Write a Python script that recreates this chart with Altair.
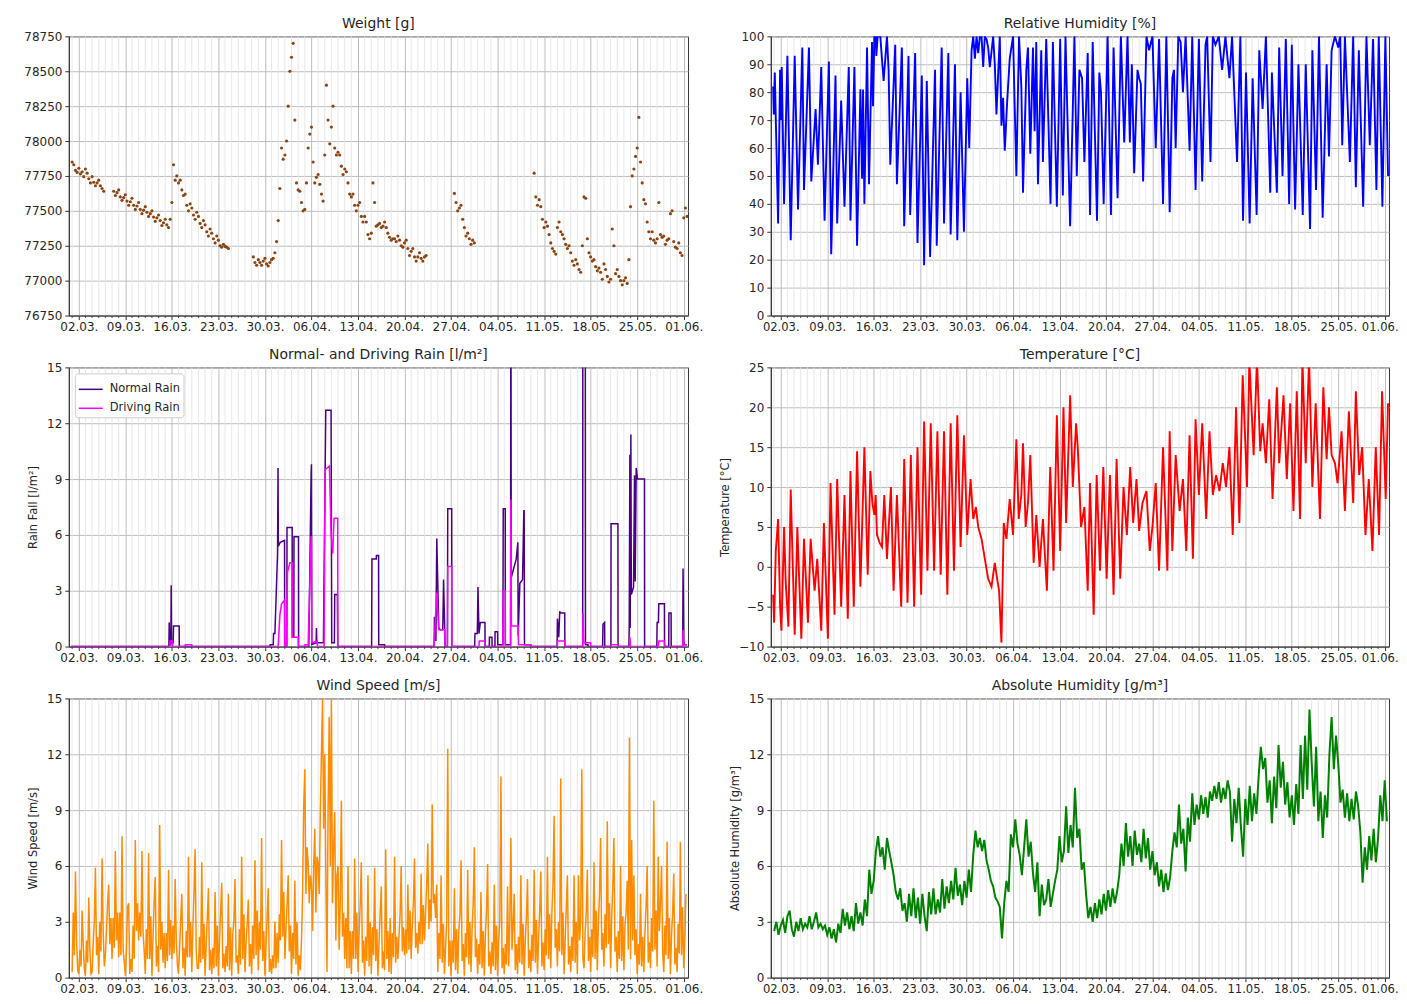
import altair as alt
import pandas as pd

BASE = pd.Timestamp("2023-03-02")

tick_labels = ["02.03.", "09.03.", "16.03.", "23.03.", "30.03.", "06.04.", "13.04.",
               "20.04.", "27.04.", "04.05.", "11.05.", "18.05.", "25.05.", "01.06."]

# ---------------- Weight [g] : segments, 6-hour steps (day offset from 02.03.)
weight_seg1_start = -1.0
weight_seg1 = [77850, 77830, 77790, 77775, 77805, 77765, 77780, 77745, 77800, 77770,
               77730, 77700, 77745, 77705, 77680, 77700, 77720, 77680, 77660, 77640]
weight_seg2_start = 5.25
weight_seg2 = [77640, 77610, 77630, 77650, 77600, 77575, 77595, 77615, 77570, 77540,
               77565, 77590, 77540, 77510, 77535, 77560, 77510, 77480, 77505, 77530,
               77490, 77460, 77480, 77500, 77455, 77425, 77450, 77470, 77430, 77395,
               77415, 77440, 77400, 77380, 77440, 77560, 77830, 77720, 77750, 77700,
               77720, 77650, 77610, 77620, 77540, 77500, 77550, 77520, 77470, 77440,
               77490, 77460, 77410, 77380, 77430, 77400, 77350, 77320, 77370, 77340,
               77300, 77270, 77320, 77290, 77250, 77240, 77260, 77245, 77240, 77230]
weight_seg3_start = 26.25
weight_seg3 = [77170, 77130, 77110, 77150, 77130, 77110, 77140, 77160, 77120, 77105,
               77130, 77150, 77160, 77200, 77280, 77430, 77660, 77950, 77870, 77900,
               78000, 78250, 78500, 78600, 78700, 78150, 77700, 77650, 77640, 77560,
               77500, 77510, 77700, 77950, 78050, 78100, 77850, 77700, 77740, 77760,
               77690, 77620, 77570, 77900, 78400, 78150, 77980, 78100, 78250, 77950,
               77900, 77920, 77900, 77820, 77760, 77800, 77780, 77700, 77620, 77600,
               77620, 77540, 77500, 77540, 77560, 77460, 77420, 77460, 77420, 77330,
               77300, 77340, 77700, 77560, 77390, 77400, 77410, 77380, 77390, 77420,
               77380, 77340, 77310, 77290, 77300, 77300, 77280, 77320, 77290, 77250,
               77240, 77270, 77290, 77230, 77180, 77210, 77230, 77170, 77140, 77170,
               77200, 77160, 77140, 77170, 77180]
weight_seg4_start = 56.5
weight_seg4 = [77625, 77560, 77500, 77520, 77540, 77440, 77380, 77320, 77340, 77300,
               77260, 77290, 77270]
weight_seg5_start = 68.5
weight_seg5 = [77770, 77600, 77540, 77580, 77530, 77440, 77380, 77420, 77390, 77330,
               77270, 77230, 77210, 77190, 77380, 77420, 77350, 77330, 77300, 77260,
               77230, 77250, 77200, 77140, 77110, 77150, 77120, 77080, 77060, 77250,
               77600, 77590, 77300, 77200, 77170, 77140, 77150, 77100, 77070, 77090,
               77060, 77010, 77120, 77080, 77030, 76990, 77010, 77370, 77250, 77050,
               77080, 77030, 77000, 76970, 77000, 77020, 76980, 77150, 77530, 77750,
               77800, 77890, 77950, 78170, 77850, 77700, 77580, 77550, 77420, 77350,
               77300, 77350, 77290, 77270, 77300, 77560, 77330, 77310, 77320, 77260,
               77290, 77300, 77480, 77500, 77280, 77240, 77230, 77270, 77200, 77180,
               77450, 77520, 77460]

# ---------------- Relative Humidity [%] : (day offset, value)
rh_t = [-1.15, -1.05, -0.9, -0.4, -0.1, 0.0, 0.15, 0.5, 1.0, 1.5, 2.1, 2.6, 3.25, 3.5, 4.25,
        4.6, 5.25, 5.6, 6.1, 6.6, 7.25, 7.6, 8.25, 8.5, 9.1, 9.6, 10.25, 10.5, 11.1, 11.5,
        12.0, 12.25, 12.4, 12.6, 13.0, 13.3, 13.75, 13.9, 14.1, 14.3, 14.4, 14.6, 15.0, 15.5,
        16.0, 16.25, 16.5, 17.25, 17.5, 18.25, 18.6, 19.25, 19.5, 20.25, 20.6, 21.25, 21.6,
        22.0, 22.5, 23.25, 23.5, 24.25, 24.6, 25.25, 25.6, 26.25, 26.6, 27.1, 27.6, 28.1,
        28.4, 28.75, 29.0, 29.25, 29.5, 29.75, 30.0, 30.25, 30.5, 30.75, 31.0, 31.25, 31.5,
        32.0, 32.25, 32.5, 33.0, 33.25, 33.5, 33.75, 34.1, 34.5, 35.0, 35.5, 35.9, 36.25,
        36.5, 37.0, 37.25, 37.6, 38.0, 38.25, 38.5, 38.75, 39.25, 39.5, 40.0, 40.65, 41.0,
        41.6, 42.1, 42.5, 42.9, 43.6, 44.25, 44.6, 45.0, 45.4, 45.75, 46.25, 46.6, 47.0,
        47.65, 48.0, 48.25, 48.65, 49.25, 49.75, 50.15, 50.75, 51.25, 51.75, 52.25, 52.6,
        52.9, 53.25, 53.75, 54.0, 54.25, 54.6, 55.1, 55.5, 56.0, 56.5, 57.0, 57.6, 58.1,
        58.6, 59.0, 59.25, 59.5, 59.9, 60.25, 60.6, 61.0, 61.6, 62.0, 62.5, 63.0, 63.5,
        64.0, 64.25, 64.75, 65.1, 65.5, 66.0, 66.5, 67.0, 67.6, 68.0, 68.75, 69.25, 69.65,
        70.1, 70.65, 71.1, 71.7, 72.1, 72.6, 73.1, 73.75, 74.0, 74.75, 75.1, 75.6, 76.1,
        76.6, 77.0, 77.5, 78.0, 78.65, 79.1, 79.75, 80.1, 80.65, 81.1, 81.65, 82.25, 82.6,
        83.0, 83.5, 84.0, 84.3, 84.6, 85.0, 85.75, 86.25, 86.65, 87.1, 87.75, 88.25, 88.75,
        89.25, 89.75, 90.1, 90.65, 91.1, 91.5]
rh_v = [82, 72, 87, 33, 88, 70, 89, 40, 93, 27, 93, 38, 96, 45, 96,
        48, 74, 54, 89, 34, 91, 22, 86, 33, 77, 39, 89, 34, 89, 25,
        81, 49, 81, 40, 96, 47, 98, 75, 100, 100, 93, 100, 100, 84,
        100, 88, 54, 97, 47, 96, 32, 93, 36, 94, 26, 86, 18,
        84, 21, 88, 25, 96, 33, 94, 29, 90, 27, 80, 30, 85,
        60, 95, 100, 92, 100, 94, 100, 100, 89, 100, 99, 96, 89,
        100, 90, 72, 100, 68, 78, 59, 76, 92, 100, 50, 100, 82,
        44, 88, 96, 58, 96, 66, 98, 47, 95, 55, 99, 40, 98,
        39, 99, 43, 100, 32, 100, 50, 88, 85, 55, 94, 36, 98,
        34, 87, 80, 40, 100, 36, 96, 42, 100, 62, 100, 62,
        90, 51, 88, 85, 83, 48, 100, 95, 100, 60, 99, 40, 100,
        37, 85, 88, 60, 100, 98, 80, 100, 59, 100, 45, 99, 48,
        97, 100, 55, 100, 97, 100, 88, 100, 85, 100, 55, 100, 34,
        87, 33, 85, 36, 95, 74, 100, 44, 87, 44, 96, 50, 99,
        40, 97, 38, 90, 36, 90, 31, 95, 45, 100, 35, 90, 57,
        95, 100, 96, 100, 61, 100, 55, 100, 46, 95, 39, 100, 61,
        99, 45, 100, 39, 100, 50]

# ---------------- Normal- and Driving Rain [l/m²] : (day offset, value)
rain_n_t = [-1.15, 13.55, 13.6, 13.7, 13.85, 13.9, 13.95, 14.2, 14.25, 15.1, 15.12,
            28.75, 28.8, 29.25, 29.3, 29.5, 29.9, 29.97, 30.02, 30.3, 30.95, 30.97, 31.3,
            31.32, 32.1, 32.12, 32.35, 32.37, 33.05, 33.07,
            34.6, 34.95, 35.0, 35.05, 35.7, 35.75, 35.8, 36.8, 37.15, 37.95, 38.05, 38.45,
            38.5, 38.9, 38.95,
            44.05, 44.1, 44.75, 44.77, 45.1, 45.12, 46.0, 46.02,
            53.45, 53.5, 53.6, 53.72, 53.85, 54.15, 54.4, 54.75, 54.87, 55.05, 55.1, 55.45,
            55.5, 56.1, 56.12,
            59.55, 59.6, 59.95, 60.05, 60.2, 60.4, 61.1, 61.12, 61.75, 61.77, 62.15, 62.17,
            62.6, 62.62, 63.0, 63.02, 63.8, 63.85, 64.15, 64.17, 64.95, 64.98, 65.02, 65.05,
            65.5, 65.8, 66.05, 66.1, 66.35, 66.75, 66.95, 67.0, 67.05, 68.0, 68.02,
            71.95, 72.0, 72.2, 72.35, 72.45, 73.1, 73.12,
            75.8, 75.82, 76.2, 76.22, 76.6, 76.62,
            78.8, 78.85, 79.1, 79.12, 80.05, 80.07, 81.1, 81.12,
            82.75, 82.8, 82.9, 82.95, 83.05, 83.12, 83.45, 83.6, 83.7, 83.85, 84.05, 85.1, 85.12,
            86.95, 87.0, 87.2, 87.25, 88.1, 88.12, 88.75, 88.77, 89.1, 89.12,
            90.85, 90.9, 91.0, 91.1, 91.5]
rain_n_v = [0, 0, 1.3, 0.1, 0.1, 3.3, 0.2, 0.2, 1.1, 1.1, 0,
            0, 0.1, 0.1, 0.7, 0.7, 5.0, 9.6, 5.4, 5.6, 5.7, 0, 0,
            6.4, 6.4, 0.5, 0.5, 5.9, 5.9, 0,
            0, 9.3, 9.8, 0.1, 0.2, 1.0, 0.2, 0.2, 12.7, 12.7, 0.2, 0.2,
            2.8, 2.8, 0,
            0, 4.7, 4.7, 4.9, 4.9, 0.1, 0.1, 0,
            0, 1.6, 1.0, 0.3, 5.8, 1.0, 0.9, 0.9, 3.6, 0.9, 0, 0,
            7.4, 7.4, 0,
            0, 0.7, 0.7, 3.2, 0.7, 1.3, 1.3, 0, 0, 0.5, 0.5, 0,
            0, 0.8, 0.8, 0.1, 0.1, 7.4, 7.4, 0.1, 0.1, 16, 16, 3.7,
            4.3, 4.7, 5.6, 0.6, 3.4, 3.6, 7.3, 7.3, 0.1, 0.1, 0,
            0, 1.5, 0.5, 1.9, 1.8, 1.8, 0,
            0, 16, 16, 0.1, 0.1, 0,
            0, 1.2, 1.3, 0, 0, 6.6, 6.6, 0,
            0, 1.0, 10.3, 1.0, 11.4, 2.8, 3.2, 9.2, 3.5, 9.6, 9.0, 9.0, 0,
            0, 1.3, 1.3, 2.3, 2.3, 0, 0, 1.8, 1.8, 0,
            0, 4.2, 0.3, 0.1, 0.1]

rain_d_t = [-1.15, 13.7, 13.75, 14.1, 14.12, 16.0, 16.02, 17.0, 17.02,
            30.0, 30.25, 30.5, 30.95, 30.97, 31.2, 31.4, 31.75, 32.1, 32.12, 33.0, 33.02,
            34.0, 34.02, 34.5, 34.95, 35.0, 35.05, 35.85, 35.9, 36.9, 37.05, 37.7, 37.95,
            38.2, 38.4, 38.95, 38.97,
            53.45, 53.5, 53.85, 54.15, 55.05, 55.1, 55.45, 55.5, 56.1, 56.12,
            60.2, 60.25, 61.1, 61.12, 63.8, 63.85, 64.15, 64.17, 64.95, 65.0, 65.08, 66.1,
            66.15, 68.0, 68.02,
            72.0, 72.02, 73.1, 73.12, 75.8, 75.85, 75.95, 77.0, 77.02, 80.07, 80.1, 81.1, 81.12,
            82.85, 82.9, 83.0, 87.2, 87.25, 88.1, 88.12, 90.85, 90.9, 91.0, 91.5]
rain_d_v = [0, 0, 0.3, 0.3, 0, 0, 0.1, 0.1, 0,
            0, 1.7, 2.3, 2.5, 0, 0, 4.0, 4.5, 4.5, 0.5, 0.5, 0,
            0, 0.1, 0.1, 5.9, 5.9, 0.2, 0.3, 0, 0, 9.5, 9.7, 6.0,
            5.0, 6.9, 6.9, 0,
            0, 0.5, 2.9, 0.9, 0.9, 0, 0, 4.3, 4.3, 0,
            0, 0.3, 0.3, 0, 0, 3.0, 3.0, 0, 0, 7.9, 1.1, 1.1,
            0.1, 0.1, 0,
            0, 0.3, 0.3, 0, 0, 1.8, 0.2, 0.2, 0, 0, 0.1, 0.1, 0,
            0, 0.5, 0, 0, 0.3, 0.3, 0, 0, 0.9, 0.1, 0.1]

# ---------------- Temperature [°C] : (day offset, value)
temp_t = [-1.15, -1.0, -0.75, -0.4, -0.1, 0.1, 0.5, 0.75, 1.15, 1.5, 1.75, 2.1, 2.5, 2.75,
          3.1, 3.5, 4.1, 4.5, 5.1, 5.5, 6.1, 6.5, 7.1, 7.5, 8.1, 8.5, 9.1, 9.6, 10.1, 10.5,
          11.0, 11.5, 12.0, 12.6, 13.1, 13.5, 13.8, 14.1, 14.3, 14.5, 14.9, 15.25, 15.6,
          16.0, 16.6, 17.0, 17.5, 18.15, 18.6, 19.1, 19.6, 20.1, 20.6, 21.15, 21.6, 22.1,
          22.6, 23.1, 23.6, 24.1, 24.6, 25.1, 25.6, 26.1, 26.6, 27.1, 27.6, 28.1, 28.6,
          29.0, 29.4, 29.75, 30.25, 30.75, 31.25, 31.75, 32.25, 32.6, 32.9, 33.25, 33.6,
          34.0, 34.5, 35.0, 35.5, 35.85, 36.25, 36.5, 36.9, 37.25, 37.6, 38.1, 38.5, 39.0,
          39.5, 40.1, 40.6, 41.1, 41.6, 42.1, 42.6, 43.0, 43.6, 44.0, 44.5, 44.75, 45.25,
          45.75, 46.25, 46.6, 47.15, 47.6, 48.1, 48.6, 49.1, 49.6, 50.15, 50.6, 51.15,
          51.65, 52.15, 52.65, 53.1, 53.6, 54.0, 54.5, 55.1, 55.6, 56.0, 56.5, 57.0, 57.6,
          58.25, 58.6, 59.0, 59.5, 60.1, 60.6, 61.1, 61.6, 62.1, 62.5, 63.0, 63.5, 64.1,
          64.6, 65.1, 65.6, 66.1, 66.6, 67.1, 67.6, 68.1, 68.6, 69.1, 69.6, 70.25, 70.6,
          71.25, 71.75, 72.25, 72.6, 73.1, 73.6, 74.1, 74.75, 75.1, 75.75, 76.25, 76.75,
          77.25, 77.75, 78.25, 78.6, 79.1, 79.6, 80.1, 80.6, 81.25, 81.75, 82.25, 82.6,
          83.0, 83.5, 83.9, 84.5, 85.0, 85.6, 86.25, 86.65, 87.15, 87.6, 88.1, 88.6,
          89.15, 89.65, 90.15, 90.6, 91.15, 91.5]
temp_v = [-3.5, -7, 2, 6, -5, -8, 5, -2, -7.5, 9.7, 2, -8.5, 5, -1,
          -9, 3.5, -7, 3.5, -3, 1, -8, 5.5, -9, 10.5, -6, 11, -5, 9, -6.5, 12,
          -5, 14.5, -2.5, 15, -1, 12, 8, 6.5, 9, 4, 3, 2.5, 9,
          1, 10, -3, 9, -5, 13.5, -4.5, 14, -5, 15, -3.5, 18.2, -0.5,
          18, -0.5, 17, -1, 17, -3.5, 18, -0.5, 19, 2.5, 16.5, 4, 11,
          6, 7.5, 5, 3.5, 1, -1.5, -2.5, 0.5, -1.5, -3, -9.5, 5.5,
          3.5, 8.5, 4, 16, 6, 9, 15.5, 5, 8, 14, 0.5, 6.5, 0,
          6, -3, 12.5, -0.5, 19, 2, 20, 5.5, 21.5, 10, 18, 15, 5,
          7.5, -3, 10.5, -6, 11.5, -0.5, 12.5, -1.5, 11.5, -3.5, 13.5, -1.5,
          10, 4, 12.5, 5.5, 11, 4.5, 8, 9.5, 2, 5, 10.5, -0.5, 15,
          -0.5, 17, 2, 14, 7, 11, 2, 16.5, 1, 18.5, 9, 18, 6,
          17, 9, 11.5, 9.5, 13, 10, 15, 4, 20, 5.5, 24, 10, 26,
          14, 26, 14.5, 18, 13, 21, 8.5, 22.5, 13, 21.5, 11, 20.5,
          7, 22, 6, 26, 13, 26, 10, 20.5, 6, 22.5, 13.5, 20,
          14, 13, 10.5, 17, 7, 19.5, 8, 22, 11.5, 15, 4, 11,
          2, 15, 4, 22, 8.5, 20.5]

# ---------------- Wind Speed [m/s] : 4-hour steps from day offset -1
wind_start = -1.0
wind_v = [0.3, 3.5, 1.2, 5.7, 2.0, 0.4, 0.2, 1.5, 0.6, 3.6, 1.8, 0.5,
          0.1, 2.0, 0.8, 4.3, 1.5, 0.2, 0.3, 1.8, 3.0, 5.9, 1.2, 2.2,
          0.2, 3.0, 1.4, 6.4, 2.5, 0.6, 1.2, 2.5, 4.0, 5.0, 1.8, 3.2,
          1.0, 3.2, 1.6, 6.8, 2.0, 3.5, 1.1, 3.5, 1.2, 7.6, 1.5, 0.9,
          0.1, 1.5, 3.8, 4.0, 0.2, 1.0, 0.3, 2.8, 1.0, 7.4, 2.5, 4.0,
          2.0, 3.5, 2.2, 6.8, 2.4, 1.5, 0.2, 2.6, 1.0, 6.7, 1.0, 3.3,
          0.1, 2.2, 4.1, 5.4, 0.6, 1.7, 0.3, 8.2, 1.5, 3.0, 0.8, 2.4,
          0.5, 2.4, 0.9, 5.8, 1.2, 3.1, 1.0, 2.8, 1.3, 5.3, 2.0, 0.7,
          0.2, 1.6, 3.2, 4.5, 0.5, 1.6, 0.1, 2.5, 1.1, 6.5, 1.1, 3.0,
          0.3, 2.7, 4.6, 6.9, 1.4, 0.5, 0.5, 2.2, 0.8, 6.2, 1.0, 2.9,
          0.1, 1.8, 3.3, 4.8, 0.4, 1.5, 0.2, 1.6, 0.5, 4.6, 0.6, 2.8,
          0.1, 2.0, 3.5, 5.1, 0.5, 1.3, 0.3, 1.7, 0.6, 4.5, 0.4, 2.7,
          0.1, 2.3, 3.1, 5.3, 0.8, 1.2, 0.2, 2.6, 0.7, 6.5, 1.0, 3.4,
          0.3, 1.9, 2.9, 4.2, 0.6, 1.8, 0.2, 2.8, 1.0, 6.3, 1.2, 3.6,
          0.4, 3.0, 1.5, 7.5, 0.9, 2.5, 0.1, 1.8, 3.2, 4.8, 0.3, 1.0,
          0.2, 1.2, 0.5, 3.0, 0.5, 2.4, 0.8, 3.4, 2.0, 7.4, 2.2, 4.6,
          1.0, 2.6, 4.0, 5.5, 1.4, 2.8, 0.2, 2.4, 1.0, 5.2, 0.7, 3.0,
          0.1, 1.2, 0.4, 2.0, 4.5, 9.2, 11.2, 4.5, 7.0, 6.2, 4.0, 5.5,
          5.0, 2.5, 6.0, 8.0, 3.5, 6.5, 6.2, 4.5, 9.0, 12.0, 15.0, 8.0,
          12.0, 5.5, 0.3, 9.0, 14.0, 6.0, 15.0, 4.0, 7.0, 8.9, 2.0, 5.5,
          6.0, 1.5, 4.0, 9.5, 2.2, 3.5, 1.0, 3.2, 0.5, 6.0, 0.5, 2.5,
          0.2, 2.5, 1.0, 6.4, 1.0, 3.5, 0.3, 2.4, 4.0, 6.2, 0.8, 2.0,
          0.1, 2.2, 0.9, 5.5, 0.6, 3.0, 0.2, 2.7, 1.2, 5.9, 0.9, 2.6,
          0.1, 1.9, 3.5, 4.9, 0.5, 1.4, 0.4, 6.9, 1.0, 2.5, 0.3, 3.2,
          0.2, 2.4, 1.1, 6.5, 0.8, 2.2, 1.0, 2.2, 3.4, 6.0, 1.4, 2.7,
          1.2, 2.6, 1.3, 5.0, 1.5, 3.6, 1.0, 2.8, 4.0, 6.4, 1.6, 2.4,
          1.3, 3.0, 1.8, 5.6, 1.8, 3.9, 2.0, 3.5, 5.0, 7.2, 2.6, 4.2,
          3.0, 9.3, 4.0, 4.5, 3.2, 5.0, 0.3, 2.4, 1.0, 5.5, 0.8, 2.9,
          0.2, 1.5, 3.0, 12.3, 0.6, 2.0, 0.1, 2.0, 0.8, 4.8, 0.4, 2.6,
          0.2, 2.5, 3.4, 6.3, 0.9, 1.8, 0.1, 2.4, 1.1, 5.8, 0.7, 3.0,
          0.3, 2.7, 4.0, 7.0, 1.1, 2.1, 0.2, 1.8, 0.7, 4.6, 0.5, 2.5,
          0.1, 2.3, 3.6, 6.1, 0.6, 1.4, 0.2, 1.9, 0.6, 5.0, 0.4, 2.8,
          0.1, 2.0, 3.0, 10.8, 0.5, 1.6, 0.2, 1.8, 0.7, 4.9, 0.6, 3.0,
          7.5, 1.5, 2.8, 4.5, 0.4, 1.8, 0.2, 2.2, 0.8, 5.5, 0.7, 2.9,
          0.1, 2.0, 3.3, 5.3, 0.5, 1.5, 0.3, 2.3, 0.9, 5.8, 0.8, 3.1,
          0.2, 2.1, 3.6, 5.7, 0.6, 1.9, 0.4, 2.6, 1.2, 6.5, 1.0, 3.4,
          0.5, 3.5, 5.0, 8.7, 1.6, 2.6, 0.6, 3.0, 1.4, 10.7, 1.2, 3.5,
          0.2, 2.0, 3.8, 5.5, 0.7, 1.7, 0.3, 2.2, 0.9, 5.5, 0.8, 3.0,
          0.2, 5.5, 2.0, 3.0, 11.2, 1.0, 0.5, 2.4, 3.5, 5.8, 0.9, 2.2,
          0.3, 2.6, 1.1, 6.2, 1.0, 3.6, 0.4, 3.0, 4.5, 7.5, 1.5, 2.4,
          0.6, 3.4, 1.6, 8.4, 1.8, 4.0, 0.5, 3.2, 5.0, 7.5, 1.4, 2.2,
          0.3, 2.5, 1.0, 6.0, 0.9, 3.3, 0.4, 2.8, 3.5, 5.2, 1.5, 12.9,
          1.0, 7.4, 2.0, 5.5, 1.2, 2.6, 0.2, 1.8, 0.7, 4.5, 0.6, 2.2,
          0.3, 2.4, 3.8, 6.0, 0.8, 1.9, 0.5, 3.2, 1.4, 9.5, 1.5, 3.6,
          0.6, 6.5, 2.5, 4.0, 6.0, 1.3, 0.3, 2.8, 1.2, 7.3, 1.0, 3.2,
          0.2, 2.3, 3.5, 5.6, 0.7, 1.6, 0.3, 2.9, 1.3, 7.3, 1.2, 3.8,
          0.5, 2.0, 4.5]

# ---------------- Absolute Humidity [g/m³] : 8-hour steps from day offset -1
ah_start = -1.0
ah_v = [2.5, 3.0, 2.3, 2.8, 3.1, 2.4, 3.3, 3.6, 2.6, 2.2, 3.0, 2.5, 3.2, 2.6, 2.9,
        2.7, 3.3, 2.6, 3.0, 3.5, 2.7, 2.9, 2.6, 2.8, 2.3, 2.7, 2.1, 2.6, 1.9, 2.9,
        2.4, 3.7, 2.8, 3.5, 2.6, 3.3, 2.5, 4.0, 2.9, 3.5, 2.8, 4.2, 3.3, 5.8, 4.5,
        5.2, 6.8, 7.6, 6.5, 7.0, 5.8, 7.5, 6.8, 6.2, 5.5, 4.6, 4.2, 4.8, 3.6, 4.0,
        3.0, 4.5, 3.3, 4.8, 3.2, 4.3, 2.9, 4.5, 3.3, 2.5, 4.6, 3.4, 4.8, 3.4, 4.2,
        3.5, 5.3, 3.7, 4.9, 4.0, 5.2, 4.2, 5.9, 4.4, 5.0, 3.9, 5.2, 4.3, 5.8, 4.6,
        6.6, 7.9, 7.0, 7.5, 6.8, 7.4, 6.3, 5.8, 5.2, 4.9, 4.3, 4.1, 3.8, 2.1, 4.0,
        5.2, 4.6, 7.7, 7.0, 8.5, 7.2, 6.6, 5.5, 7.0, 8.5, 6.5, 7.3, 5.6, 4.6, 6.2,
        3.3, 5.0, 3.9, 4.2, 5.3, 3.8, 4.5, 5.2, 5.8, 7.6, 6.2, 6.8, 9.2, 6.7, 8.2,
        7.0, 10.2, 7.5, 8.0, 5.8, 6.2, 4.5, 3.2, 3.8, 3.0, 4.0, 3.2, 4.2, 3.4, 4.5,
        3.6, 4.7, 3.8, 4.8, 4.0, 4.6, 5.5, 7.2, 6.0, 8.3, 6.5, 7.6, 6.0, 7.9, 6.6,
        7.2, 6.2, 8.0, 6.4, 7.5, 5.8, 6.8, 5.5, 6.2, 4.9, 5.8, 4.6, 5.6, 4.7, 5.4,
        6.8, 7.8, 7.0, 9.3, 7.2, 8.0, 5.7, 8.6, 7.3, 9.9, 8.2, 9.3, 8.5, 9.8, 8.8,
        9.7, 8.6, 10.0, 9.5, 10.3, 9.6, 10.5, 9.4, 10.2, 9.6, 10.6, 10.0, 7.3, 9.6, 8.3,
        10.2, 8.1, 6.5, 9.6, 8.2, 10.3, 8.4, 9.9, 8.8, 10.8, 12.4, 11.2, 11.8, 9.4, 10.6,
        8.3, 10.8, 9.1, 12.5, 10.2, 11.6, 9.3, 10.5, 8.6, 9.8, 8.2, 10.4, 8.8, 12.5, 9.6,
        13.0, 10.1, 14.4, 11.5, 9.2, 12.4, 8.4, 10.0, 7.5, 9.8, 8.6, 12.0, 14.0, 11.2, 13.0,
        11.5, 9.4, 10.1, 8.6, 9.9, 8.4, 9.6, 8.5, 10.0, 9.2, 7.8, 5.1, 7.0, 5.8, 7.6,
        6.3, 8.0, 6.2, 7.5, 9.8, 8.4, 10.6, 8.4]

# ---------------------------------------------------------------------------
WL, WR, H = 621, 620, 280
TXT = "#262626"
FONT = "DejaVu Sans"


def iso(days):
    return [(BASE + pd.Timedelta(days=float(d))).strftime("%Y-%m-%dT%H:%M:%S") for d in days]


def seg_frame(pairs):
    days, vals = [], []
    for start, step, values in pairs:
        for i, v in enumerate(values):
            days.append(start + step * i)
            vals.append(v)
    return pd.DataFrame({"t": iso(days), "v": vals})


tick_dates = [alt.DateTime(year=2023, month=int(l[3:5]), date=int(l[0:2])) for l in tick_labels]
x_scale = alt.Scale(domain=[alt.DateTime(year=2023, month=2, date=28, hours=12),
                            alt.DateTime(year=2023, month=6, date=1, hours=15, minutes=36)])


def x_axis(right_col):
    kw = dict(values=tick_dates, format="%d.%m.", labelAngle=0, title=None,
              grid=True, gridColor="#bdbdbd", gridWidth=1, tickSize=4,
              labelPadding=2, labelFontSize=12, labelOverlap=False)
    if right_col:
        # keep the last label inside the browser window
        kw["labelFontSize"] = 11.6
        kw["labelOffset"] = {"condition": {"test": "month(datum.value) == 5", "value": -5}, "value": 0}
    return alt.Axis(**kw)


days_all = pd.date_range("2023-03-01", "2023-06-01", freq="D")
minor_days = [d for d in days_all if (d - BASE).days % 7 != 0]
minor_df = pd.DataFrame({"t": [d.strftime("%Y-%m-%dT%H:%M:%S") for d in minor_days]})


def make_x(right_col):
    def X():
        return alt.X("t:T", scale=x_scale, axis=x_axis(right_col))
    return X


def grid_layers(X):
    g = alt.Chart(minor_df).mark_rule(color="#e4e4e4", strokeWidth=0.9).encode(x=X())
    tk = alt.Chart(minor_df).mark_rule(color=TXT, strokeWidth=0.8, clip=False).encode(
        x=X(), y=alt.value(H), y2=alt.value(H + 2.5))
    return [g, tk]


def Y(lo, hi, step, title=None, fmt=None):
    vals = list(range(lo, hi + 1, step))
    kw = dict(values=vals, grid=True, gridColor="#bdbdbd", gridWidth=1, tickSize=4,
              labelPadding=3, labelFontSize=12)
    if fmt:
        kw["format"] = fmt
    if title:
        kw["title"] = title
        kw["titlePadding"] = 8
    else:
        kw["title"] = None
    return alt.Y("v:Q", scale=alt.Scale(domain=[lo, hi], nice=False, zero=False), axis=alt.Axis(**kw))


def panel(X, width, layers, title):
    return alt.layer(*grid_layers(X), *layers).properties(
        width=width, height=H, title=alt.TitleParams(title, offset=-1))


XL = make_x(False)
XR = make_x(True)

# Weight
weight_df = seg_frame([(weight_seg1_start, 0.25, weight_seg1), (weight_seg2_start, 0.25, weight_seg2),
                       (weight_seg3_start, 0.25, weight_seg3), (weight_seg4_start, 0.25, weight_seg4),
                       (weight_seg5_start, 0.25, weight_seg5)])
weight = panel(XL, WL, [alt.Chart(weight_df).mark_circle(size=10, color="#8B4513", opacity=1, clip=True).encode(
    x=XL(), y=Y(76750, 78750, 250, fmt="d"))], "Weight [g]")

# Relative humidity
rh_df = pd.DataFrame({"t": iso(rh_t), "v": rh_v})
rh = panel(XR, WR, [alt.Chart(rh_df).mark_line(color="#0000FF", strokeWidth=1.9, clip=True).encode(
    x=XR(), y=Y(0, 100, 10))], "Relative Humidity [%]")

# Rain
color_scale = alt.Scale(domain=["Normal Rain", "Driving Rain"], range=["#4B0082", "#FF00FF"])
legend = alt.Legend(title=None, orient="top-left", offset=6, fillColor="white", strokeColor="#cccccc",
                    padding=3, cornerRadius=3, symbolType="stroke", symbolStrokeWidth=1.5,
                    symbolSize=576, labelFontSize=11.5, labelFont=FONT, labelColor=TXT,
                    rowPadding=-6, labelOffset=6)
rn_df = pd.DataFrame({"t": iso(rain_n_t), "v": rain_n_v, "s": "Normal Rain"})
rd_df = pd.DataFrame({"t": iso(rain_d_t), "v": rain_d_v, "s": "Driving Rain"})
rain = panel(XL, WL, [
    alt.Chart(rn_df).mark_line(strokeWidth=1.5, clip=True).encode(
        x=XL(), y=Y(0, 15, 3, title="Rain Fall [l/m²]"), color=alt.Color("s:N", scale=color_scale, legend=legend)),
    alt.Chart(rd_df).mark_line(strokeWidth=1.5, clip=True).encode(
        x=XL(), y=Y(0, 15, 3, title="Rain Fall [l/m²]"), color=alt.Color("s:N", scale=color_scale, legend=legend)),
], "Normal- and Driving Rain [l/m²]")

# Temperature
temp_df = pd.DataFrame({"t": iso(temp_t), "v": temp_v})
temp = panel(XR, WR, [alt.Chart(temp_df).mark_line(color="#FF0000", strokeWidth=1.9, clip=True).encode(
    x=XR(), y=Y(-10, 25, 5, title="Temperature [°C]"))], "Temperature [°C]")

# Wind
wind_df = seg_frame([(wind_start, 1.0 / 6.0, wind_v)])
wind = panel(XL, WL, [alt.Chart(wind_df).mark_line(color="#FF8C00", strokeWidth=1.5, clip=True).encode(
    x=XL(), y=Y(0, 15, 3, title="Wind Speed [m/s]"))], "Wind Speed [m/s]")

# Absolute humidity
ah_df = seg_frame([(ah_start, 1.0 / 3.0, ah_v)])
ah = panel(XR, WR, [alt.Chart(ah_df).mark_line(color="#008000", strokeWidth=2.0, clip=True).encode(
    x=XR(), y=Y(0, 15, 3, title="Absolute Humidity [g/m³]"))], "Absolute Humidity [g/m³]")

chart = alt.concat(weight, rh, rain, temp, wind, ah, columns=2, align="each",
                   spacing=alt.RowColnumber(row=13, column=15)).resolve_scale(
    color="independent").resolve_legend(color="independent").properties(
    padding={"left": 15, "top": 7, "right": 0, "bottom": 0}
).configure_view(stroke="#333333", strokeWidth=1).configure_axis(
    labelFont=FONT, titleFont=FONT, labelColor=TXT, titleColor=TXT, titleFontSize=11.5,
    titleFontWeight="normal", domainColor="#333333", tickColor="#333333"
).configure_title(font=FONT, fontSize=14, fontWeight="normal", color=TXT)

chart.save("out.html", embed_options={"renderer": "svg", "actions": False})
